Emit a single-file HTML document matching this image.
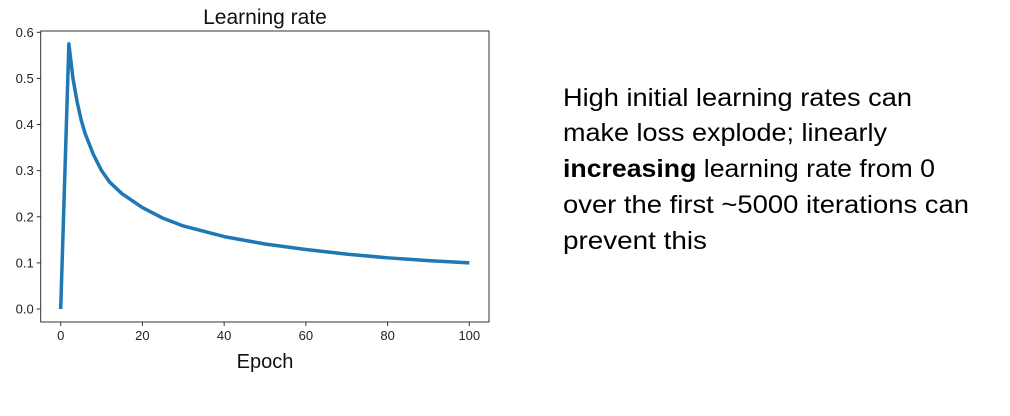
<!DOCTYPE html>
<html><head><meta charset="utf-8"><style>
html,body{margin:0;padding:0;background:#fff;}
svg{display:block;font-family:"Liberation Sans",sans-serif;}
</style></head><body>
<svg width="1010" height="416" viewBox="0 0 1010 416">
<g id="chart"></g>
<g font-size="25" fill="#000">
<text x="563" y="106" textLength="349" lengthAdjust="spacingAndGlyphs">High initial learning rates can</text>
<text x="563" y="141" textLength="324" lengthAdjust="spacingAndGlyphs">make loss explode; linearly</text>
<text x="563" y="177" textLength="372" lengthAdjust="spacingAndGlyphs"><tspan font-weight="bold">increasing</tspan> learning rate from 0</text>
<text x="563" y="213" textLength="406" lengthAdjust="spacingAndGlyphs">over the first ~5000 iterations can</text>
<text x="563" y="249" textLength="144" lengthAdjust="spacingAndGlyphs">prevent this</text>
</g>
</svg>
<script>
const epochs = [0,2,3,4,5,6,8,10,12,15,20,25,30,40,50,60,70,80,90,100];
const lrValues = [0,0.575,0.5,0.45,0.41,0.38,0.335,0.3,0.275,0.25,0.22,0.197,0.18,0.157,0.141,0.129,0.119,0.111,0.105,0.1];
const xTicks = [0,20,40,60,80,100];
const yTicks = [0.0,0.1,0.2,0.3,0.4,0.5,0.6];
const NS="http://www.w3.org/2000/svg";
const g=document.getElementById('chart');
const L=40.7,R=489,T=31,B=322;
const sx=v=>60.7+(v-0)*(469.3-60.7)/100;
const sy=v=>309-v*(309-32.3)/0.6;
function mk(t,a,p){const e=document.createElementNS(NS,t);for(const k in a)e.setAttribute(k,a[k]);(p||g).appendChild(e);return e;}
const frame=mk('rect',{x:L,y:T,width:R-L,height:B-T,fill:'none',stroke:'#333','stroke-width':1});


xTicks.forEach(v=>{
  const tk=mk('line',{x1:sx(v),x2:sx(v),y1:B,y2:B+4,stroke:'#333'});
  
  
  const tx=mk('text',{x:sx(v),y:B+18,'text-anchor':'middle','font-size':13,fill:'#222'});
  tx.textContent=v;
  
  
});
yTicks.forEach(v=>{
  const tk=mk('line',{x1:L-4,x2:L,y1:sy(v),y2:sy(v),stroke:'#333'});
  
  
  const tx=mk('text',{x:L-7,y:sy(v)+4.5,'text-anchor':'end','font-size':13,fill:'#222'});
  tx.textContent=v.toFixed(1);
  
  
});
const line=mk('polyline',{points:epochs.map((e,i)=>sx(e)+','+sy(lrValues[i])).join(' '),fill:'none',stroke:'#1f77b4','stroke-width':3.5,'stroke-linejoin':'round'});


const title=mk('text',{x:265,y:24,'text-anchor':'middle','font-size':21,fill:'#111'});
title.textContent='Learning rate';


const xl=mk('text',{x:265,y:368,'text-anchor':'middle','font-size':20,fill:'#111'});
xl.textContent='Epoch';


</script>
</body></html>
